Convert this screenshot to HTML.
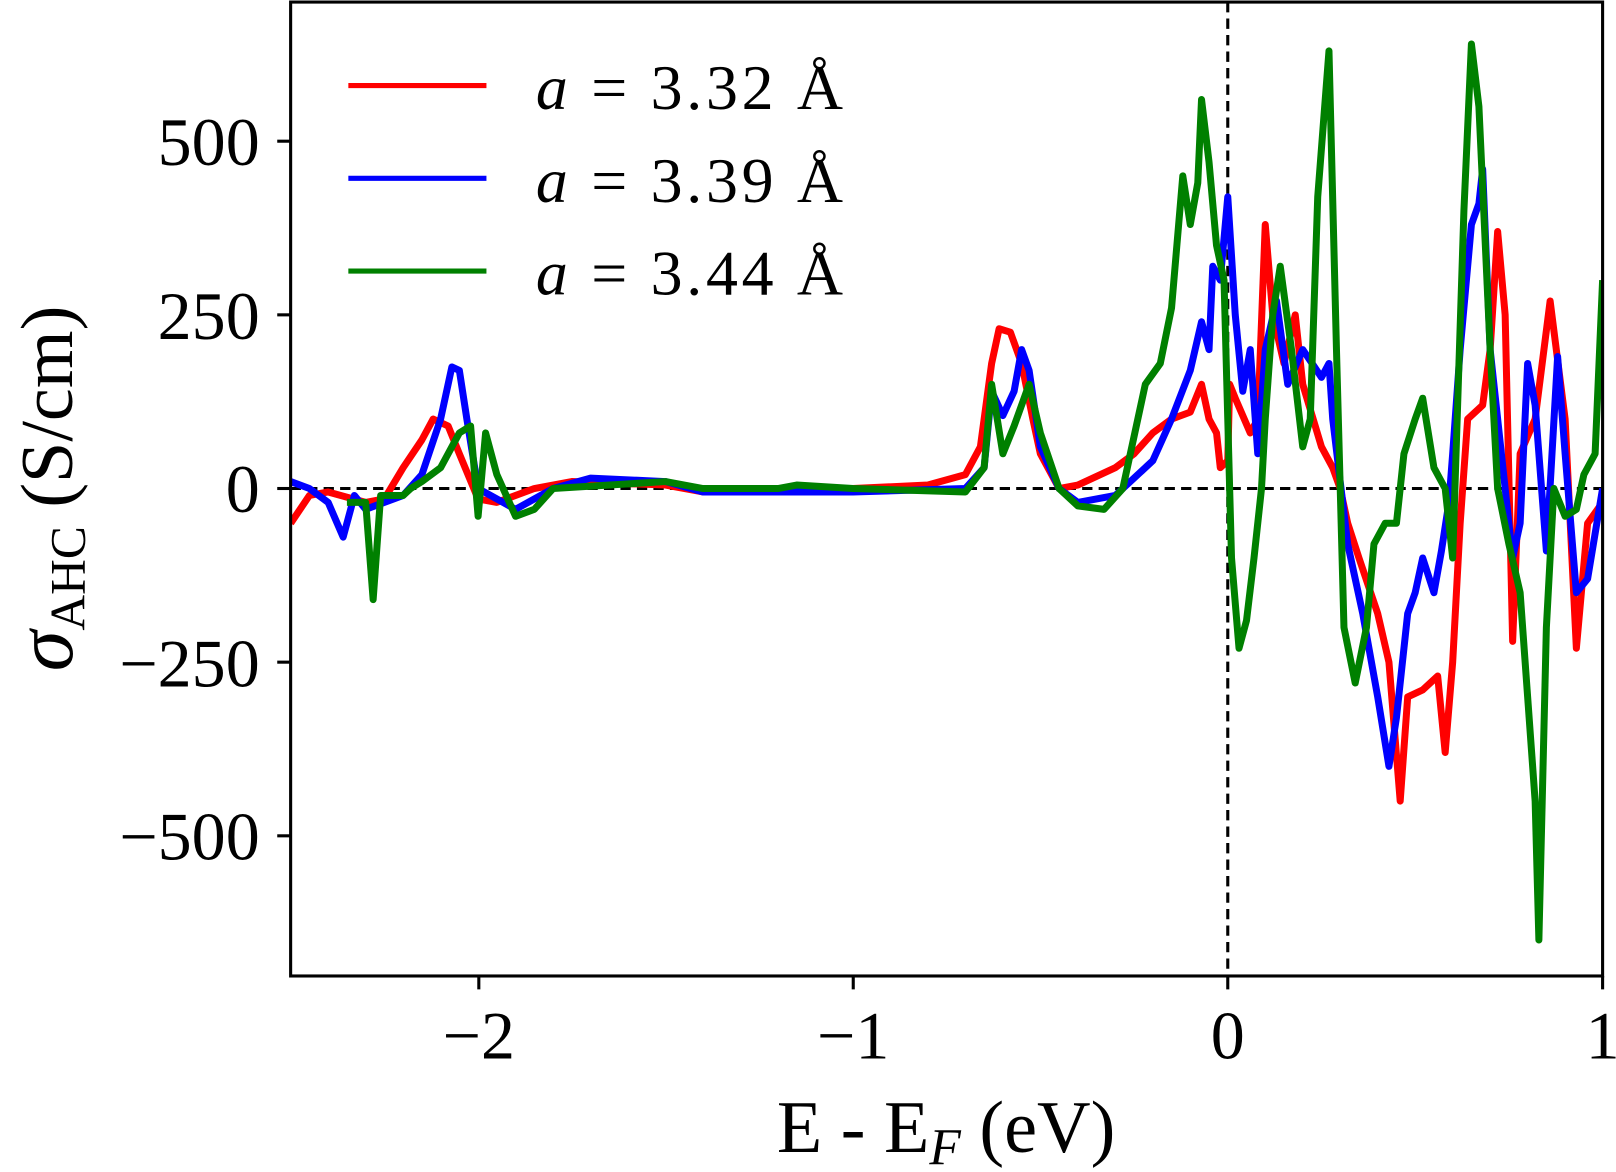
<!DOCTYPE html>
<html><head><style>body{margin:0;background:#fff}svg{display:block}</style></head><body>
<svg width="1616" height="1172" viewBox="0 0 1568 1137.2" preserveAspectRatio="none" xmlns="http://www.w3.org/2000/svg" font-family="Liberation Serif, serif">
<defs><clipPath id="c"><rect x="282" y="2" width="1273" height="945"/></clipPath></defs>
<g clip-path="url(#c)">
<line x1="282" y1="474" x2="1555" y2="474" stroke="#000" stroke-width="3" stroke-dasharray="10,6"/>
<line x1="1191.3" y1="2" x2="1191.3" y2="947" stroke="#000" stroke-width="3" stroke-dasharray="10,6"/>
<g transform="translate(1191.3,474) scale(363.7,-0.674)" fill="none" stroke-linejoin="round">
<polyline vector-effect="non-scaling-stroke" stroke-width="7" stroke="#ff0000" points="-2.5,-50 -2.45,-10 -2.4,-5 -2.3,-20 -2.25,-15 -2.2,30 -2.15,70 -2.12,100 -2.08,90 -2.05,50 -2.0,-15 -1.95,-20 -1.85,0 -1.75,10 -1.5,5 -1.4,-5 -1.0,0 -0.8,5 -0.7,20 -0.66,60 -0.63,180 -0.61,230 -0.58,225 -0.55,180 -0.52,100 -0.5,50 -0.45,0 -0.4,5 -0.3,30 -0.25,50 -0.2,80 -0.15,100 -0.1,110 -0.07,150 -0.05,100 -0.03,80 -0.02,30 0,40 0.005,150 0.02,130 0.06,80 0.08,100 0.1,380 0.12,250 0.15,180 0.18,250 0.2,150 0.25,60 0.28,30 0.3,0 0.32,-50 0.35,-100 0.4,-180 0.43,-250 0.46,-450 0.48,-300 0.52,-290 0.56,-270 0.58,-380 0.6,-250 0.62,-50 0.64,100 0.68,120 0.7,200 0.72,370 0.74,250 0.76,-220 0.78,50 0.82,100 0.86,270 0.9,100 0.93,-230 0.96,-50 1.0,-20"/>
<polyline vector-effect="non-scaling-stroke" stroke-width="7" stroke="#0000ff" points="-2.5,10 -2.45,0 -2.4,-20 -2.36,-70 -2.33,-10 -2.3,-30 -2.2,-10 -2.15,20 -2.1,100 -2.07,175 -2.05,170 -2.03,100 -2.0,0 -1.9,-30 -1.8,0 -1.7,15 -1.5,10 -1.4,-5 -1.0,-5 -0.7,0 -0.65,30 -0.63,140 -0.6,105 -0.57,140 -0.55,200 -0.53,170 -0.5,60 -0.45,0 -0.4,-20 -0.3,-10 -0.2,40 -0.15,100 -0.1,170 -0.07,240 -0.05,200 -0.04,320 -0.02,300 0,420 0.02,250 0.04,140 0.06,200 0.08,50 0.1,200 0.13,270 0.16,150 0.2,200 0.25,160 0.27,180 0.28,100 0.32,-80 0.36,-180 0.4,-300 0.43,-400 0.45,-330 0.48,-180 0.5,-150 0.52,-100 0.55,-150 0.57,-90 0.59,-20 0.6,50 0.62,200 0.65,380 0.67,410 0.68,460 0.7,200 0.73,50 0.76,-100 0.78,-50 0.8,180 0.82,120 0.85,-90 0.88,190 0.9,50 0.93,-150 0.96,-130 1.0,0"/>
<polyline vector-effect="non-scaling-stroke" stroke-width="7" stroke="#008000" points="-2.35,-20 -2.3,-20 -2.28,-160 -2.26,-10 -2.2,-10 -2.18,0 -2.15,10 -2.1,30 -2.05,80 -2.02,90 -2.0,-40 -1.98,80 -1.95,20 -1.9,-40 -1.85,-30 -1.8,0 -1.5,10 -1.4,0 -1.2,0 -1.15,5 -1.0,0 -0.7,-5 -0.65,30 -0.63,150 -0.6,50 -0.57,90 -0.53,150 -0.5,80 -0.45,0 -0.4,-25 -0.33,-30 -0.28,0 -0.22,150 -0.18,180 -0.15,260 -0.12,450 -0.1,380 -0.08,440 -0.07,560 -0.05,470 -0.03,350 -0.01,300 0,100 0.01,-100 0.03,-230 0.05,-190 0.07,-100 0.09,0 0.1,100 0.12,250 0.14,320 0.17,200 0.2,60 0.22,100 0.24,420 0.27,630 0.29,200 0.31,-200 0.34,-280 0.37,-200 0.39,-80 0.42,-50 0.45,-50 0.47,50 0.5,100 0.52,130 0.55,30 0.58,0 0.6,-100 0.63,400 0.65,640 0.67,550 0.7,200 0.72,0 0.75,-80 0.78,-150 0.8,-300 0.82,-450 0.83,-650 0.85,-200 0.87,0 0.9,-40 0.93,-30 0.95,20 0.98,50 1.0,300"/>
</g>
</g>
<rect x="282" y="2" width="1273" height="945" fill="none" stroke="#000" stroke-width="3"/>
<g stroke="#000" stroke-width="3">
<line x1="464.6" y1="947" x2="464.6" y2="960"/><line x1="827.9" y1="947" x2="827.9" y2="960"/><line x1="1191.3" y1="947" x2="1191.3" y2="960"/><line x1="1555" y1="947" x2="1555" y2="960"/>
<line x1="269" y1="137" x2="282" y2="137"/><line x1="269" y1="305.5" x2="282" y2="305.5"/><line x1="269" y1="474" x2="282" y2="474"/><line x1="269" y1="642.5" x2="282" y2="642.5"/><line x1="269" y1="811" x2="282" y2="811"/>
</g>
<g font-size="66" fill="#000">
<text x="464.6" y="1027" text-anchor="middle">−2</text>
<text x="827.9" y="1027" text-anchor="middle">−1</text>
<text x="1191.3" y="1027" text-anchor="middle">0</text>
<text x="1555" y="1027" text-anchor="middle">1</text>
<text x="252" y="160" text-anchor="end">500</text>
<text x="252" y="329" text-anchor="end">250</text>
<text x="252" y="497" text-anchor="end">0</text>
<text x="252" y="666" text-anchor="end">−250</text>
<text x="252" y="834" text-anchor="end">−500</text>
<text x="918" y="1118" text-anchor="middle" font-size="72">E - E<tspan font-style="italic" font-size="50" dy="12">F</tspan><tspan dy="-12"> (eV)</tspan></text>
<text transform="translate(70,474) rotate(-90)" text-anchor="middle" font-size="72"><tspan font-style="italic" font-size="80">σ</tspan><tspan font-size="48" dy="12">AHC</tspan><tspan dy="-12"> (S/cm)</tspan></text>
</g>
<g stroke-width="5">
<line x1="338" y1="83" x2="472" y2="83" stroke="#ff0000"/>
<line x1="338" y1="173" x2="472" y2="173" stroke="#0000ff"/>
<line x1="338" y1="263" x2="472" y2="263" stroke="#008000"/>
</g>
<g font-size="62" fill="#000">
<text x="520" y="106" textLength="298" lengthAdjust="spacing"><tspan font-style="italic">a</tspan> = 3.32 Å</text>
<text x="520" y="196" textLength="298" lengthAdjust="spacing"><tspan font-style="italic">a</tspan> = 3.39 Å</text>
<text x="520" y="286" textLength="298" lengthAdjust="spacing"><tspan font-style="italic">a</tspan> = 3.44 Å</text>
</g>
</svg>
</body></html>
